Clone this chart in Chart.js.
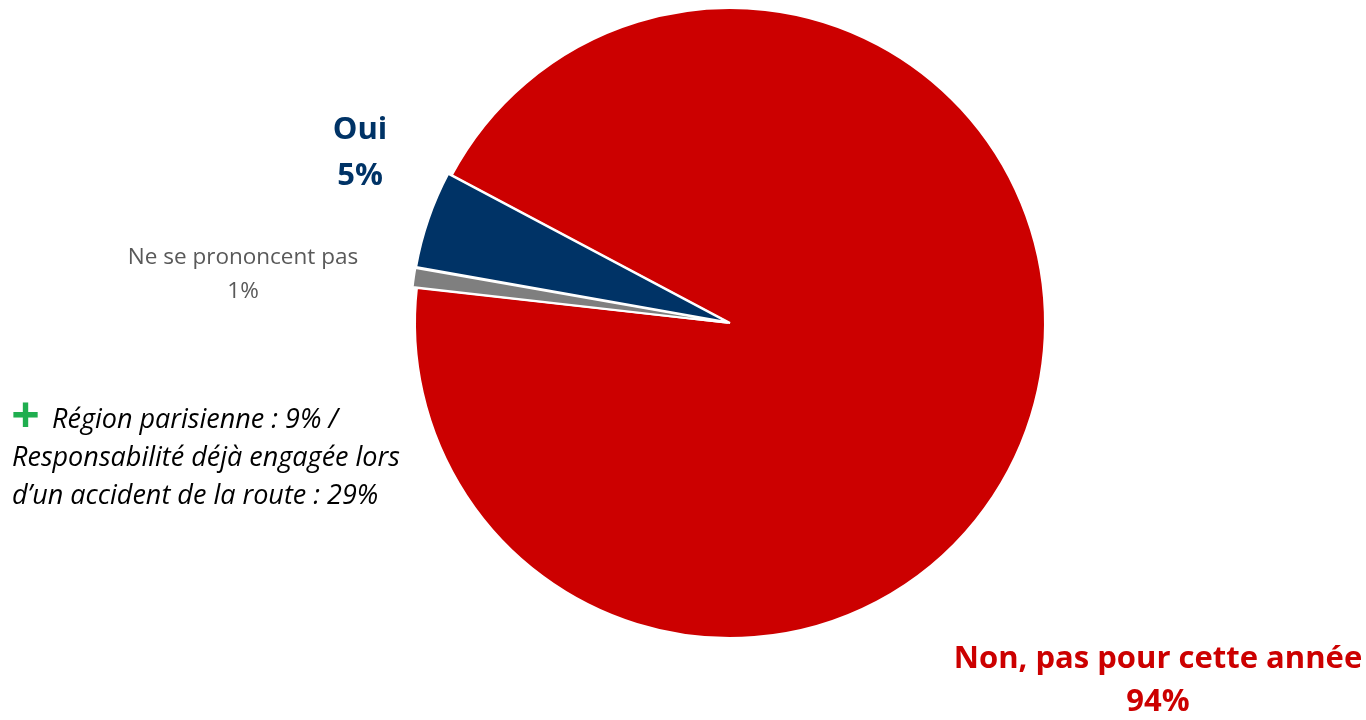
<!DOCTYPE html>
<html>
<head>
<meta charset="utf-8">
<script src="https://cdn.jsdelivr.net/npm/chart.js@4/dist/chart.umd.min.js"></script>
<style>
html,body{margin:0;padding:0;background:#fff;}
#wrap{position:relative;width:1366px;height:720px;}
</style>
</head>
<body>
<div id="wrap"><canvas id="c" width="1366" height="720"></canvas></div>
<script>
const categories = ["Non, pas pour cette année", "Ne se prononcent pas", "Oui"];
const values = [94, 1, 5];
const sliceColors = ["#CC0000", "#7F7F7F", "#003366"];
const sliceOffsets = [0, 9, 9];
const noteLines = ["Région parisienne : 9% /", "Responsabilité déjà engagée lors", "d\u2019un accident de la route : 29%"];

const FONT = '"Open Sans", "Liberation Sans", sans-serif';

const labelPlugin = {
  id: 'labels',
  afterDraw(chart) {
    const ctx = chart.ctx;
    ctx.save();
    ctx.textAlign = 'center';
    ctx.textBaseline = 'middle';
    // Oui
    ctx.fillStyle = sliceColors[2];
    ctx.font = 'bold 31px ' + FONT;
    ctx.fillText(categories[2], 360, 130);
    ctx.fillText(values[2] + '%', 360, 176);
    // NSP
    ctx.fillStyle = '#595959';
    ctx.font = '22.5px ' + FONT;
    ctx.fillText(categories[1], 243, 258);
    ctx.fillText(values[1] + '%', 243, 292);
    // Non
    ctx.fillStyle = sliceColors[0];
    ctx.font = 'bold 31px ' + FONT;
    ctx.fillText(categories[0], 1158, 659);
    ctx.fillText(values[0] + '%', 1158, 702);
    // note
    ctx.fillStyle = '#1FAE4F';
    ctx.font = 'bold 50px ' + FONT;
    ctx.fillText('+', 25.5, 419);
    ctx.textAlign = 'left';
    ctx.fillStyle = '#000000';
    ctx.font = 'italic 27px ' + FONT;
    ctx.fillText(noteLines[0], 52, 420);
    ctx.fillText(noteLines[1], 12, 458);
    ctx.fillText(noteLines[2], 12, 496);
    ctx.restore();
  }
};

new Chart(document.getElementById('c'), {
  type: 'pie',
  data: {
    labels: categories,
    datasets: [{
      data: values,
      backgroundColor: sliceColors,
      borderColor: '#ffffff',
      borderWidth: 2,
      offset: sliceOffsets,
      radius: 315
    }]
  },
  options: {
    responsive: false,
    animation: false,
    rotation: -62,
    layout: { padding: { left: 100, right: 6, top: 0, bottom: 74 } },
    plugins: { legend: { display: false }, tooltip: { enabled: false } }
  },
  plugins: [labelPlugin]
});
</script>
</body>
</html>
